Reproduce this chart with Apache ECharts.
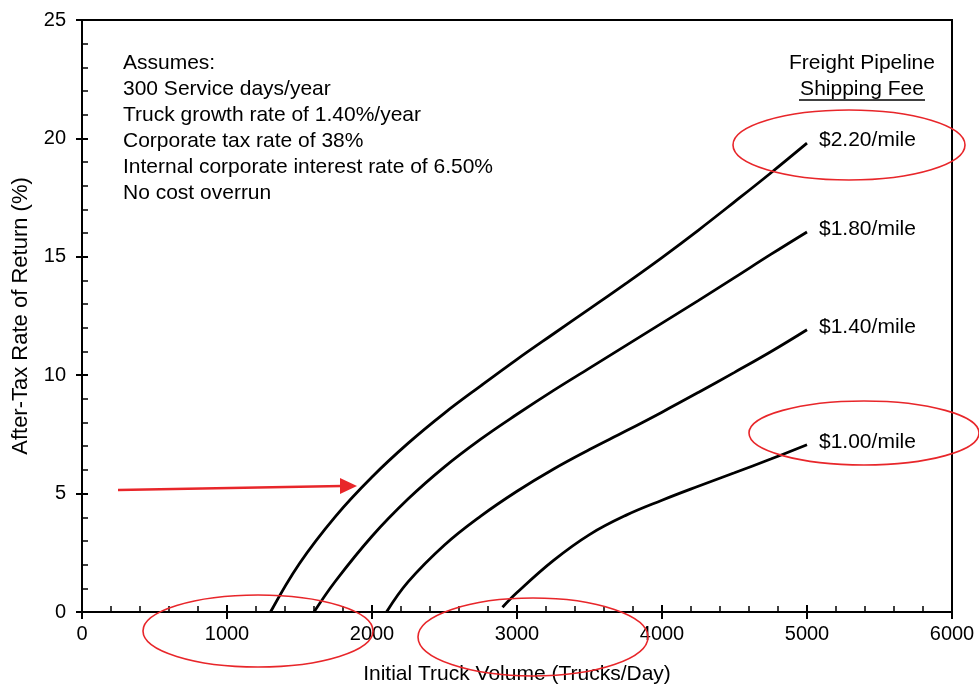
<!DOCTYPE html>
<html><head><meta charset="utf-8">
<script src="https://cdn.jsdelivr.net/npm/echarts@6/dist/echarts.min.js"></script>
<style>html,body{margin:0;padding:0;background:#fff}#c{width:979px;height:686px}</style>
</head><body><div id="c"></div>
<script>
// Data
var vol220 = [1300, 1500, 1750, 2000, 2250, 2500, 2750, 3000, 3250, 3500, 3750, 4000, 4250, 4500, 4750, 5000];
var irr220 = [0, 2.05, 4.05, 5.7, 7.13, 8.4, 9.55, 10.67, 11.74, 12.8, 13.87, 14.97, 16.12, 17.32, 18.54, 19.8];
var vol180 = [1600, 1750, 2000, 2250, 2500, 2750, 3000, 3250, 3500, 3750, 4000, 4250, 4500, 4750, 5000];
var irr180 = [0, 1.32, 3.2, 4.78, 6.13, 7.3, 8.35, 9.35, 10.3, 11.25, 12.2, 13.15, 14.12, 15.1, 16.05];
var vol140 = [2100, 2250, 2500, 2750, 3000, 3250, 3500, 3750, 4000, 4250, 4500, 4750, 5000];
var irr140 = [0, 1.28, 2.83, 4.05, 5.1, 6.03, 6.86, 7.64, 8.44, 9.27, 10.12, 10.99, 11.92];
var vol100 = [2900, 3000, 3250, 3500, 3750, 4000, 4250, 4500, 4750, 5000];
var irr100 = [0.2, 0.82, 2.17, 3.27, 4.08, 4.72, 5.31, 5.88, 6.46, 7.06];
var feeLabels = ['$2.20/mile', '$1.80/mile', '$1.40/mile', '$1.00/mile'];
var notes = ['Assumes:', '300 Service days/year', 'Truck growth rate of 1.40%/year',
  'Corporate tax rate of 38%', 'Internal corporate interest rate of 6.50%', 'No cost overrun'];
var xTitle = 'Initial Truck Volume (Trucks/Day)';
var yTitle = 'After-Tax Rate of Return (%)';

function pairs(xs, ys) { return xs.map(function (x, i) { return [x, ys[i]]; }); }
var FONT = '"Liberation Sans", Arial, sans-serif';
var FS = 21;
var chart = echarts.init(document.getElementById('c'), null, { renderer: 'canvas' });

function mkSeries(name, xs, ys) {
  return {
    name: name, type: 'line', xAxisIndex: 0, yAxisIndex: 0,
    data: pairs(xs, ys), smooth: 0.4, symbol: 'none',
    lineStyle: { color: '#000', width: 2.8 },
    endLabel: { show: true, formatter: name, color: '#000', fontSize: FS, fontFamily: FONT, offset: [4, -3] },
    silent: true, z: 3
  };
}

var axisCommon = {
  type: 'value', min: 0,
  axisLine: { show: true, lineStyle: { color: '#000', width: 2 } },
  splitLine: { show: false }
};
function plain(v) { return String(v); }

chart.setOption({
  animation: false,
  backgroundColor: '#fff',
  grid: { left: 82, right: 27, top: 20, bottom: 74, show: true, borderColor: '#000', borderWidth: 2,
          containLabel: false, outerBoundsMode: 'none' },
  xAxis: [
    Object.assign({}, axisCommon, {
      max: 6000, interval: 1000, position: 'bottom',
      name: xTitle, nameLocation: 'middle', nameGap: 52,
      nameTextStyle: { color: '#000', fontSize: FS, fontFamily: FONT },
      axisLabel: { color: '#000', fontSize: FS - 1, fontFamily: FONT, margin: 12, formatter: plain },
      axisTick: { show: true, inside: true, length: 7, lineStyle: { color: '#000', width: 2 } },
      minorTick: { show: true, splitNumber: 5, length: 6, lineStyle: { color: '#000', width: 1.5 } }
    }),
    Object.assign({}, axisCommon, {
      max: 6000, interval: 1000, position: 'bottom',
      axisLabel: { show: false },
      axisTick: { show: true, inside: false, length: 7, lineStyle: { color: '#000', width: 2 } }
    })
  ],
  yAxis: [
    Object.assign({}, axisCommon, {
      max: 25, interval: 5, position: 'left',
      name: yTitle, nameLocation: 'middle', nameGap: 50,
      nameTextStyle: { color: '#000', fontSize: FS + 1, fontFamily: FONT },
      axisLabel: { color: '#000', fontSize: FS - 1, fontFamily: FONT, margin: 16, formatter: plain },
      axisTick: { show: true, inside: true, length: 6, lineStyle: { color: '#000', width: 2 } },
      minorTick: { show: true, splitNumber: 5, length: 6, lineStyle: { color: '#000', width: 1.5 } }
    }),
    Object.assign({}, axisCommon, {
      max: 25, interval: 5, position: 'left',
      axisLabel: { show: false },
      axisTick: { show: true, inside: false, length: 6, lineStyle: { color: '#000', width: 2 } }
    })
  ],
  series: [
    mkSeries(feeLabels[0], vol220, irr220),
    mkSeries(feeLabels[1], vol180, irr180),
    mkSeries(feeLabels[2], vol140, irr140),
    mkSeries(feeLabels[3], vol100, irr100)
  ],
  graphic: [
    { type: 'text', left: 123, top: 50, z: 10,
      style: { text: notes.join('\n'), fill: '#000', font: FS + 'px ' + FONT, lineHeight: 26 } },
    { type: 'text', x: 862, y: 63, z: 10,
      style: { text: 'Freight Pipeline', fill: '#000', font: FS + 'px ' + FONT, align: 'center', verticalAlign: 'middle' } },
    { type: 'text', x: 862, y: 89, z: 10,
      style: { text: 'Shipping Fee', fill: '#000', font: FS + 'px ' + FONT, align: 'center', verticalAlign: 'middle' } },
    { type: 'line', z: 10, shape: { x1: 799, y1: 100, x2: 925, y2: 100 }, style: { stroke: '#000', lineWidth: 1.5 } },
    // red annotations
    { type: 'ellipse', z: 20, shape: { cx: 849, cy: 145, rx: 116, ry: 35 }, style: { fill: null, stroke: '#e8262a', lineWidth: 1.6 } },
    { type: 'ellipse', z: 20, shape: { cx: 864, cy: 433, rx: 115, ry: 32 }, style: { fill: null, stroke: '#e8262a', lineWidth: 1.6 } },
    { type: 'ellipse', z: 20, shape: { cx: 258, cy: 631, rx: 115, ry: 36 }, style: { fill: null, stroke: '#e8262a', lineWidth: 1.6 } },
    { type: 'ellipse', z: 20, shape: { cx: 533, cy: 637, rx: 115, ry: 39 }, style: { fill: null, stroke: '#e8262a', lineWidth: 1.6 } },
    { type: 'line', z: 20, shape: { x1: 118, y1: 490, x2: 342, y2: 486 }, style: { stroke: '#e8262a', lineWidth: 2.5 } },
    { type: 'polygon', z: 20, shape: { points: [[357, 486], [340, 478], [340, 494]] }, style: { fill: '#e8262a' } }
  ]
});
</script></body></html>
